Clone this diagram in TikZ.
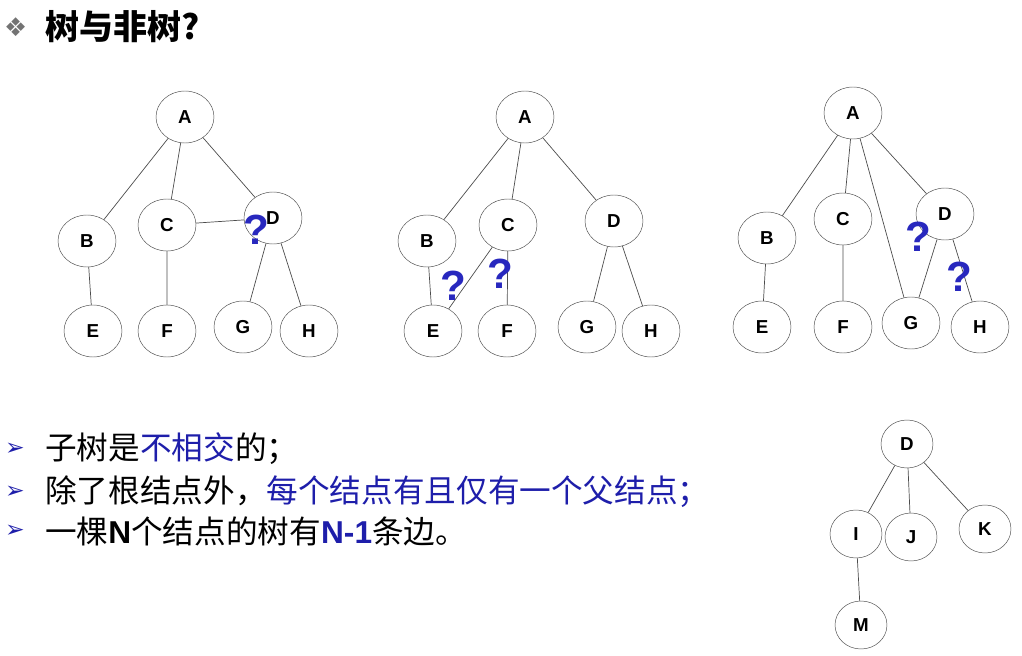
\documentclass[tikz,border=0pt]{standalone}
\usepackage{fontspec}
\setmainfont{Liberation Sans}
\newfontfamily\cjk{Noto Sans CJK SC}
\newfontfamily\sym{DejaVu Sans}
\usetikzlibrary{shapes.geometric}
\definecolor{qblue}{RGB}{40,40,190}
\definecolor{tblue}{RGB}{30,30,170}
\begin{document}
\begin{tikzpicture}[x=0.03cm,y=-0.03cm,
  nd/.style={draw=black!70,ellipse,minimum width=58*0.03cm,minimum height=52*0.03cm,inner sep=0pt,font=\bfseries\fontsize{16}{16}\selectfont},
  sn/.style={nd,minimum width=52*0.03cm,minimum height=48*0.03cm},
  ln/.style={draw=black!70,line width=0.6pt},
  qm/.style={text=qblue,font=\bfseries\fontsize{36}{36}\selectfont,inner sep=0pt},
  bl/.style={anchor=west,inner sep=0pt,font=\cjk\fontsize{27}{27}\selectfont},
  ar/.style={text=tblue,font=\sym\fontsize{20}{20}\selectfont,inner sep=0pt}]
\useasboundingbox (0,0) rectangle (1022,656);
\node[anchor=west,inner sep=0pt,font=\sym\fontsize{22}{22}\selectfont,text=black!55] (star) at (4,27) {❖};
\node[anchor=west,inner sep=0pt,font=\cjk\bfseries\fontsize{29}{29}\selectfont] (title) at (45,27) {树与非树?};
% tree 1
\node[nd] (a1) at (185,117) {A};
\node[nd] (b1) at (87,241) {B};
\node[nd] (c1) at (167,225) {C};
\node[nd] (d1) at (273,218) {D};
\node[nd] (e1) at (93,331) {E};
\node[nd] (f1) at (167,331) {F};
\node[nd] (g1) at (243,327) {G};
\node[nd] (h1) at (309,331) {H};
\draw[ln] (a1)--(b1) (a1)--(c1) (a1)--(d1) (b1)--(e1) (c1)--(f1) (c1)--(d1) (d1)--(g1) (d1)--(h1);
\node[qm] (q1) at (256,230) {?};
% tree 2
\node[nd] (a2) at (525,117) {A};
\node[nd] (b2) at (427,241) {B};
\node[nd] (c2) at (508,225) {C};
\node[nd] (d2) at (614,221) {D};
\node[nd] (e2) at (433,331) {E};
\node[nd] (f2) at (507,331) {F};
\node[nd] (g2) at (587,327) {G};
\node[nd] (h2) at (651,331) {H};
\draw[ln] (a2)--(b2) (a2)--(c2) (a2)--(d2) (b2)--(e2) (c2)--(e2) (c2)--(f2) (d2)--(g2) (d2)--(h2);
\node[qm] (q2) at (453,286) {?};
\node[qm] (q3) at (500,274) {?};
% tree 3
\node[nd] (a3) at (853,113) {A};
\node[nd] (b3) at (767,238) {B};
\node[nd] (c3) at (843,219) {C};
\node[nd] (d3) at (945,214) {D};
\node[nd] (e3) at (762,327) {E};
\node[nd] (f3) at (843,327) {F};
\node[nd] (g3) at (911,323) {G};
\node[nd] (h3) at (980,327) {H};
\draw[ln] (a3)--(b3) (a3)--(c3) (a3)--(d3) (a3)--(g3) (b3)--(e3) (c3)--(f3) (d3)--(g3) (d3)--(h3);
\node[qm] (q4) at (918,237) {?};
\node[qm] (q5) at (959,277) {?};
% tree 4
\node[sn] (d4) at (907,444) {D};
\node[sn] (i4) at (856,534) {I};
\node[sn] (j4) at (911,537) {J};
\node[sn] (k4) at (985,529) {K};
\node[sn] (m4) at (861,625) {M};
\draw[ln] (d4)--(i4) (d4)--(j4) (d4)--(k4) (i4)--(m4);
% bullets
\node[ar] (ar1) at (15,449) {➢};
\node[ar] (ar2) at (15,492) {➢};
\node[ar] (ar3) at (15,531) {➢};
\node[bl] (t1) at (45,449) {子树是\textcolor{tblue}{不相交}的；};
\node[bl] (t2) at (45,492) {除了根结点外，\textcolor{tblue}{每个结点有且仅有一个父结点；}};
\node[bl] (t3) at (45,531) {一棵{\fontspec{Liberation Sans}\bfseries N}个结点的树有\textcolor{tblue}{{\fontspec{Liberation Sans}\bfseries N-1}}条边。};
\end{tikzpicture}
\end{document}
